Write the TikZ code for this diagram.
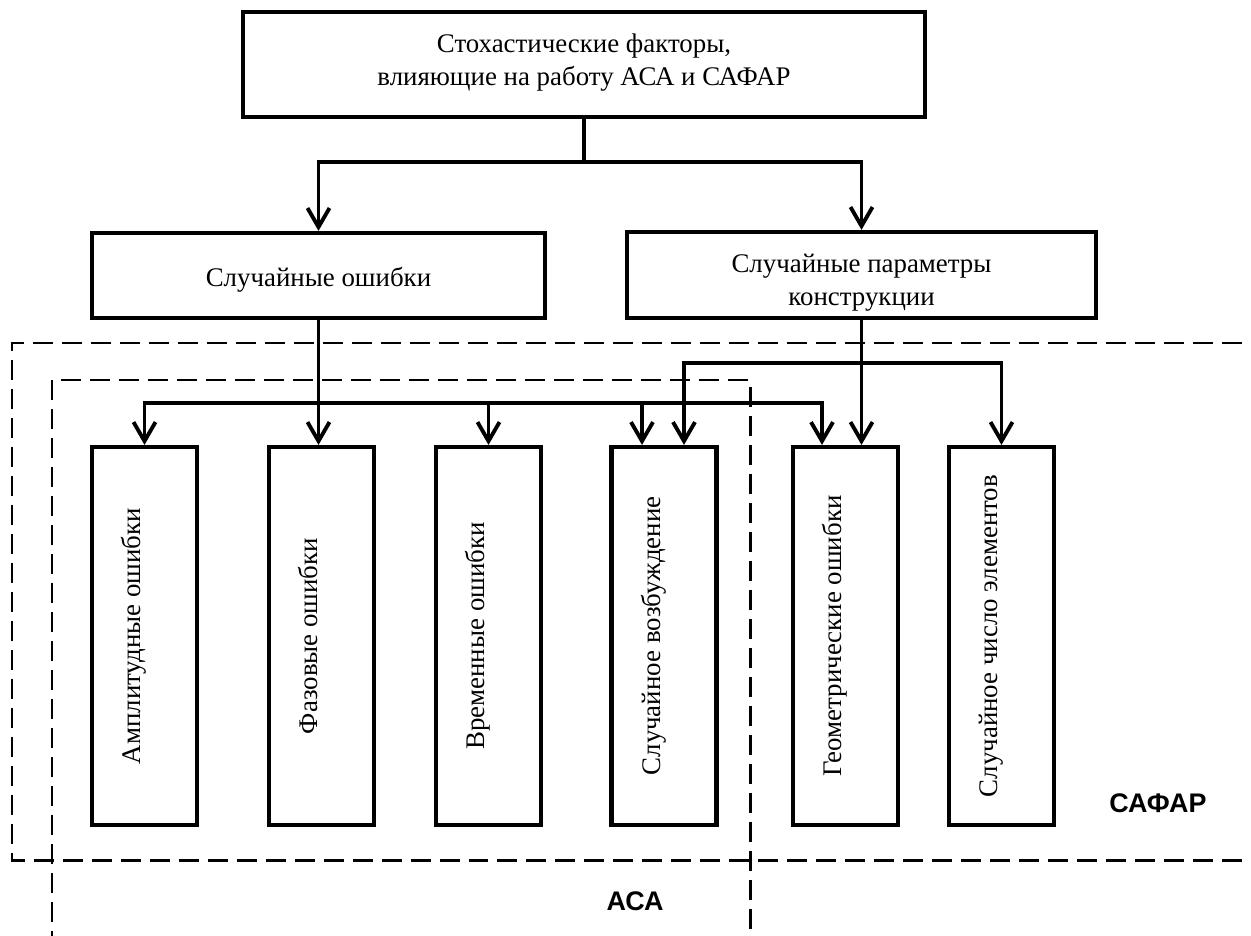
\documentclass[tikz,border=0pt]{standalone}
\usepackage{fontspec}
\setmainfont{Liberation Serif}
\newfontfamily\labfont{Liberation Sans}
\usetikzlibrary{arrows.meta,calc}
\tikzset{
  box/.style={draw, line width=2.4pt, inner sep=0pt},
  htext/.style={inner sep=0pt, font=\fontsize{15.3pt}{18.7pt}\selectfont, align=center},
  vbox/.style={draw, line width=2.4pt, inner sep=0pt, minimum width=2.1cm, minimum height=7.56cm},
  vtext/.style={rotate=90, anchor=base, font=\fontsize{15.3pt}{18.7pt}\selectfont, inner sep=0pt},
  conn/.style={line width=2.2pt},
  arr/.style={line width=2.2pt, -{Straight Barb[length=0.38cm, width=0.44cm, line width=2.2pt]}},
  dsh/.style={line width=1.7pt, dash pattern=on 0.4cm off 0.18cm},
  grp/.style={font=\labfont\bfseries\fontsize{15.3pt}{17pt}\selectfont, inner sep=0pt}
}
\begin{document}
\begin{tikzpicture}[x=0.02cm,y=-0.02cm]
\useasboundingbox (0,0) rectangle (1251,936);
\clip (0,0) rectangle (1251,936);
% dashed group frames
\draw[dsh] (1300,343) -- (12,343) -- (12,860) -- (1300,860);
\draw[dsh] (52,980) -- (52,380) -- (750,380) -- (750,980);
\node[grp] (safar) at (1158,803) {САФАР};
\node[grp] (aca) at (635,901) {АСА};
% top boxes
\node[box, minimum width=13.64cm, minimum height=2.1cm] (top) at (584,64.5) {};
\node[htext] (toptext) at (584,63) {Стохастические факторы,\\влияющие на работу АСА и САФАР};
\node[box, minimum width=9.06cm, minimum height=1.7cm] (A) at (318.5,275.5) {};
\node[htext] (Atext) at (318.5,279.5) {Случайные ошибки};
\node[box, minimum width=9.38cm, minimum height=1.72cm] (B) at (861.5,275) {};
\node[htext] (Btext) at (861.5,283) {Случайные параметры\\конструкции};
% vertical boxes
\node[vbox] (b1) at (144.5,636) {};
\node[vbox] (b2) at (321.5,636) {};
\node[vbox] (b3) at (488.5,636) {};
\node[vbox] (b4) at (664,636) {};
\node[vbox] (b5) at (845.5,636) {};
\node[vbox] (b6) at (1001.5,636) {};
\node[vtext] (t1) at (140.5,636) {Амплитудные ошибки};
\node[vtext] (t2) at (317.5,636) {Фазовые ошибки};
\node[vtext] (t3) at (484.5,636) {Временные ошибки};
\node[vtext] (t4) at (660,636) {Случайное возбуждение};
\node[vtext] (t5) at (841.5,636) {Геометрические ошибки};
\node[vtext] (t6) at (997.5,636) {Случайное число элементов};
% connectors from top
\draw[conn] (top.south) -- (top.south |- 0,162) coordinate (j0);
\draw[arr] (j0) -| (A.north);
\draw[arr] (j0) -| (B.north);
% bus from A
\coordinate (b4l) at ($(b4.north)+(-22,0)$);
\coordinate (b4r) at ($(b4.north)+(20,0)$);
\coordinate (b5l) at ($(b5.north)+(-23.5,0)$);
\coordinate (b5r) at (B.south |- b5.north);
\draw[arr] (A.south) -- (A.south |- b2.north);
\draw[arr] (A.south |- 0,403) -| (b1.north);
\draw[arr] (A.south |- 0,403) -| (b5l);
\draw[arr] (b3.north |- 0,403) -- (b3.north);
\draw[arr] (b4l |- 0,403) -- (b4l);
% bus from B
\draw[arr] (B.south) -- (b5r);
\draw[arr] (B.south |- 0,363) -| (b4r);
\draw[arr] (B.south |- 0,363) -| (b6.north);
\end{tikzpicture}
\end{document}
